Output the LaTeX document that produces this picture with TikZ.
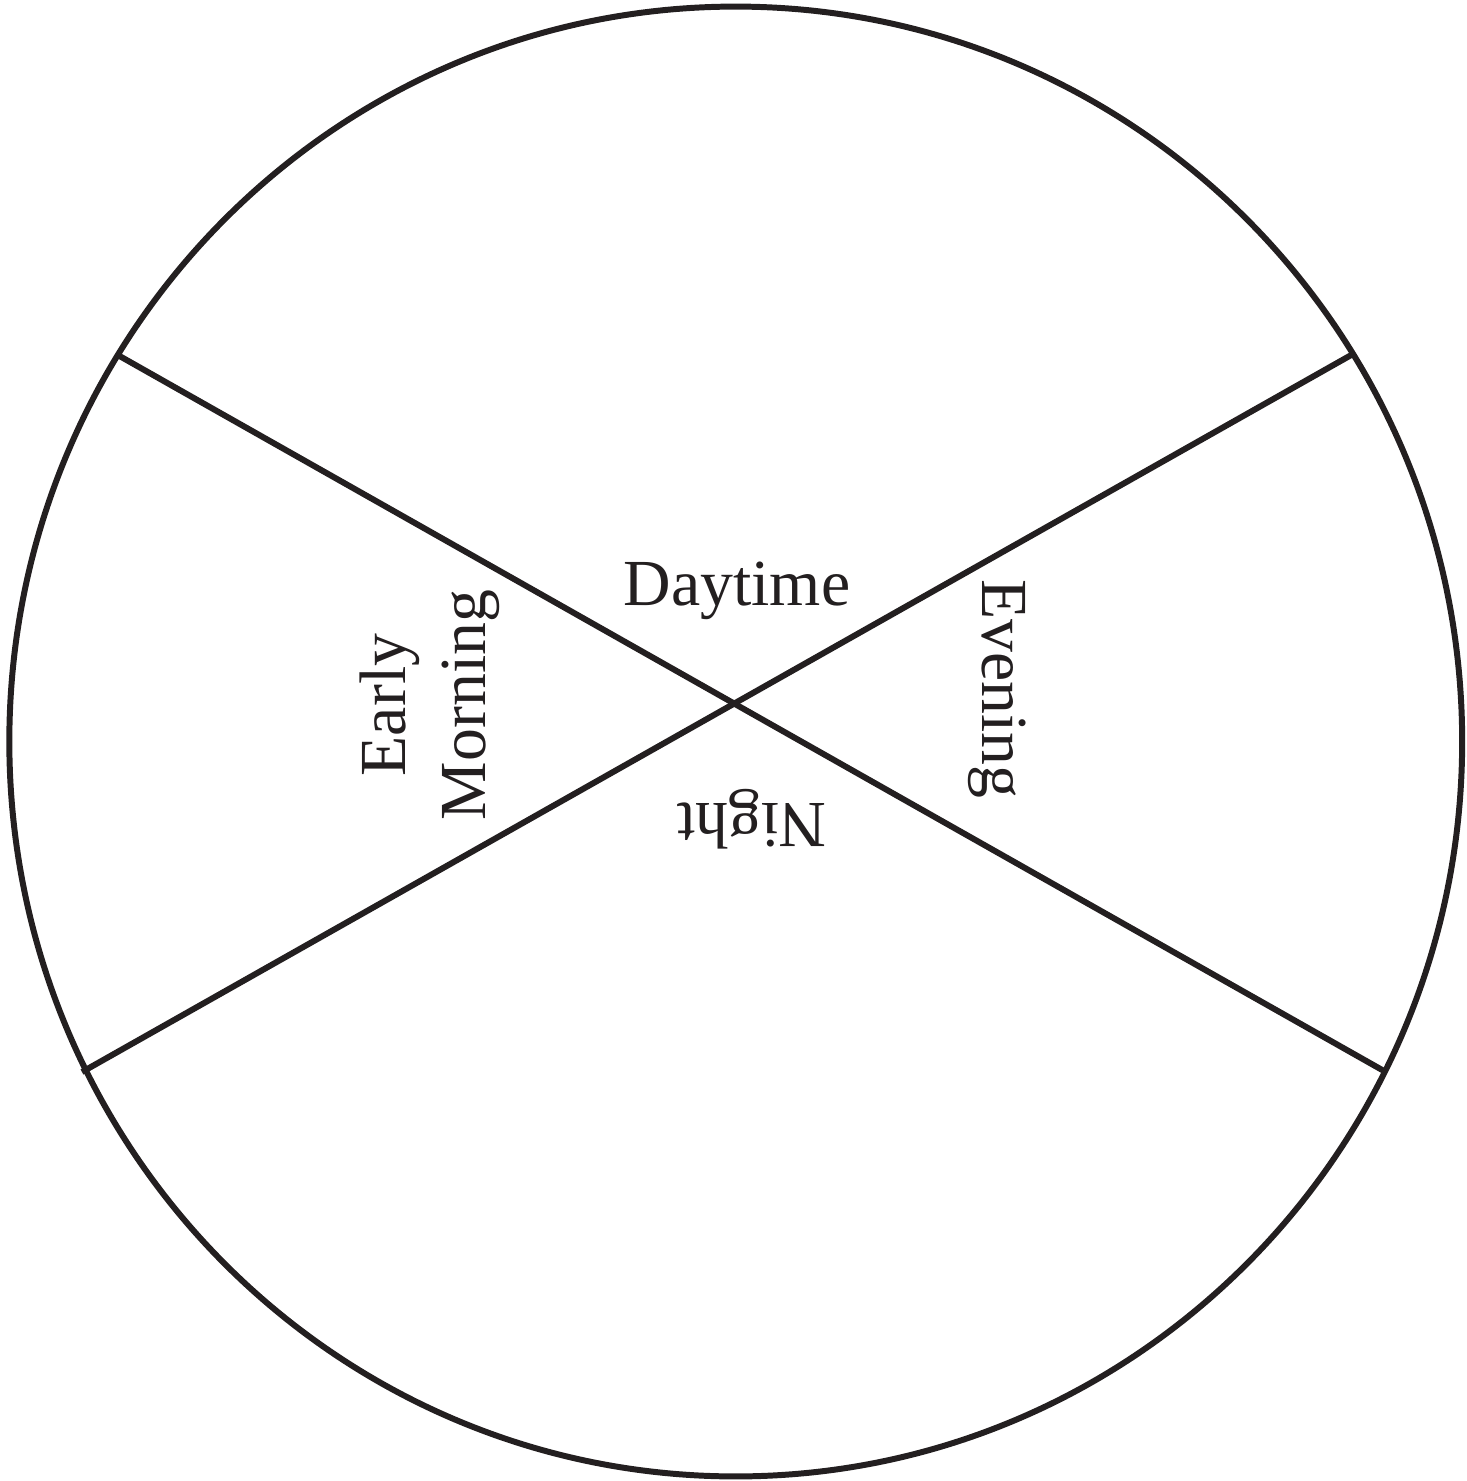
\documentclass[tikz,border=0pt]{standalone}
\usepackage{fontspec}
\setmainfont{Liberation Serif}
\usepackage{tikz}
\definecolor{ink}{HTML}{231F20}
\tikzstyle{rim} = [line width=1.7pt, draw=ink]
\tikzstyle{divider} = [line width=1.7pt, draw=ink]
\tikzstyle{period} = [font=\fontsize{18.7}{22.7}\selectfont, inner sep=0pt, text=ink]

\begin{document}
\begin{tikzpicture}[x=0.01cm, y=-0.01cm]
      \useasboundingbox (0,0) rectangle (1467,1481);
      \draw[rim] (735.75,741.5) ellipse [x radius=7.26cm, y radius=7.345cm];
      \coordinate (nw) at (116,354);
      \coordinate (se) at (1384,1071);
      \coordinate (ne) at (1353,354);
      \coordinate (sw) at (82,1072);
      \draw[divider] (nw)--(se);
      \draw[divider] (ne)--(sw);
      \node (daytime)[period, anchor=base] at (737,605) {Daytime};
      \node (night)[period, rotate=180, anchor=base] at (752,803) {Night};
      \node (evening)[period, rotate=-90, anchor=base] at (982,689) {Evening};
      \node (morning)[period, rotate=90, align=center] at (430,705) {Early\\Morning};
    \end{tikzpicture}
\end{document}
